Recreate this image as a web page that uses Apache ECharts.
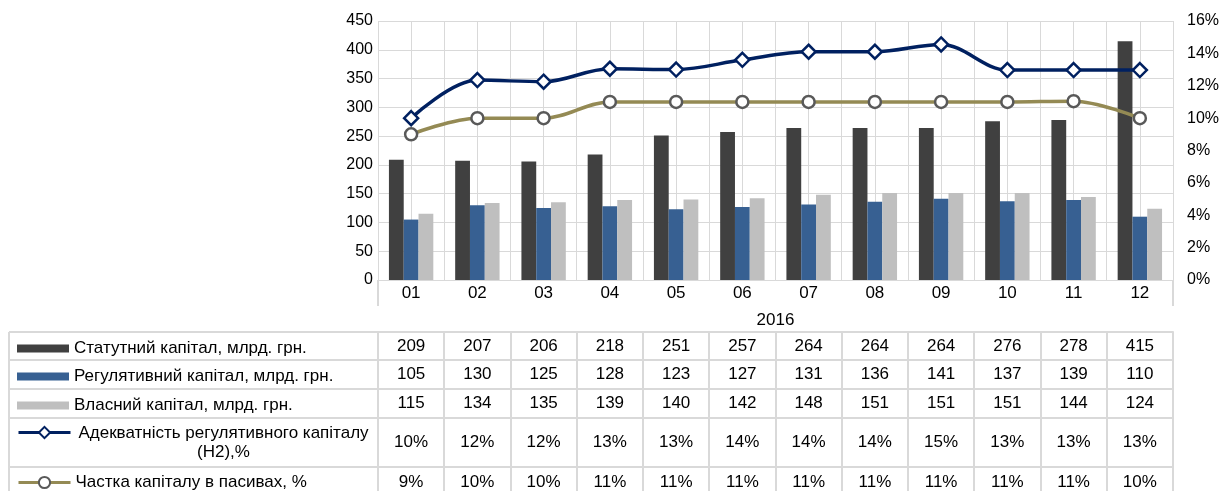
<!DOCTYPE html>
<html>
<head>
<meta charset="utf-8">
<script src="https://cdn.jsdelivr.net/npm/echarts@6/dist/echarts.min.js"></script>
<style>
  html, body { margin: 0; padding: 0; background: #fff; }
  #chart { width: 1222px; height: 491px; }
</style>
</head>
<body>
<div id="chart"></div>
<script>
// data
const months = ['01', '02', '03', '04', '05', '06', '07', '08', '09', '10', '11', '12']
const year = '2016'
const statutory = [209, 207, 206, 218, 251, 257, 264, 264, 264, 276, 278, 415]
const regulatory = [105, 130, 125, 128, 123, 127, 131, 136, 141, 137, 139, 110]
const ownCapital = [115, 134, 135, 139, 140, 142, 148, 151, 151, 151, 144, 124]
// percent values
const adequacy = [10.0, 12.35, 12.25, 13.05, 13.0, 13.6, 14.1, 14.1, 14.55, 12.97, 12.97, 12.97]
const capitalShare = [9.0, 10.0, 10.0, 11.0, 11.0, 11.0, 11.0, 11.0, 11.0, 11.0, 11.05, 10.0]

const seriesNames = [
  'Статутний капітал, млрд. грн.',
  'Регулятивний капітал, млрд. грн.',
  'Власний капітал, млрд. грн.',
  'Адекватність регулятивного капіталу (Н2),%',
  'Частка капіталу в пасивах, %',
]

const FONT = 'Liberation Sans, Arial, sans-serif'
const TEXT = '#000'
const GRID_LINE = '#d9d9d9'
const TABLE_LINE = '#d9d9d9'
const AXIS_FS = 16
const TABLE_FS = 17

const chart = echarts.init(document.getElementById('chart'))

// table rows under the plot: [values, line offset from plot bottom, row height, label margin]
const rowAxis = (values, offset, height, margin) => ({
  type: 'category',
  position: 'bottom',
  offset: offset,
  data: values,
  axisLine: { show: true, lineStyle: { color: TABLE_LINE, width: 2 } },
  axisTick: { show: true, length: height, interval: 0, lineStyle: { color: TABLE_LINE, width: 2 } },
  axisLabel: { interval: 0, margin: margin, fontSize: TABLE_FS, color: TEXT, fontFamily: FONT },
  splitLine: { show: false },
})

const pct = (arr) => arr.map((v) => Math.round(v) + '%')

// legend column on the left, one legend per table row
const legendAt = (name, top, itemHeight, extra) => Object.assign({
  data: [name],
  left: 17,
  top: top,
  padding: 0,
  itemWidth: 52,
  itemHeight: itemHeight,
  textStyle: { fontSize: TABLE_FS, color: TEXT, fontFamily: FONT },
  selectedMode: false,
}, extra || {})

const tableRows = [332, 360, 389, 418, 467]
const graphic = tableRows.map((y) => ({
  type: 'line',
  shape: { x1: 9, y1: y, x2: 378, y2: y },
  style: { stroke: TABLE_LINE, lineWidth: 2 },
}))
graphic.push({
  type: 'line',
  shape: { x1: 9, y1: 332, x2: 9, y2: 491 },
  style: { stroke: TABLE_LINE, lineWidth: 2 },
})

const option = {
  backgroundColor: '#fff',
  animation: false,
  textStyle: { fontFamily: FONT },
  grid: { left: 378, right: 48, top: 21, bottom: 211, containLabel: false },
  legend: [
    legendAt(seriesNames[0], 340, 8, { icon: 'rect' }),
    legendAt(seriesNames[1], 368, 8, { icon: 'rect' }),
    legendAt(seriesNames[2], 397, 8, { icon: 'rect' }),
    legendAt(seriesNames[3], 425, 14, {
      lineStyle: { width: 3 },
      formatter: '{a|Адекватність регулятивного капіталу}\n{a|(Н2),%}',
      textStyle: {
        fontSize: TABLE_FS, color: TEXT, fontFamily: FONT, padding: [21, 0, 0, 0],
        rich: { a: { width: 296, align: 'center', fontSize: TABLE_FS, lineHeight: 19, color: TEXT, fontFamily: FONT } },
      },
    }),
    legendAt(seriesNames[4], 474, 14, { lineStyle: { width: 3 } }),
  ],
  graphic: graphic,
  xAxis: [
    {
      type: 'category',
      data: months,
      position: 'bottom',
      axisLine: { lineStyle: { color: GRID_LINE, width: 1 } },
      axisTick: { length: 26, interval: 0, lineStyle: { color: TABLE_LINE, width: 2 } },
      axisLabel: { margin: 5, fontSize: TABLE_FS, color: TEXT, fontFamily: FONT },
      splitLine: { show: false },
    },
    {
      type: 'category',
      data: [year],
      position: 'bottom',
      offset: 26,
      axisLine: { show: false },
      axisTick: { show: true, length: 26, lineStyle: { color: TABLE_LINE, width: 2 } },
      axisLabel: { margin: 6, fontSize: TABLE_FS, color: TEXT, fontFamily: FONT },
    },
    rowAxis(statutory.map(String), 52, 28, 6),
    rowAxis(regulatory.map(String), 80, 29, 6),
    rowAxis(ownCapital.map(String), 109, 29, 6),
    rowAxis(pct(adequacy), 138, 49, 16),
    rowAxis(pct(capitalShare), 187, 30, 7),
    {
      // vertical gridlines every half category
      type: 'value',
      position: 'top',
      min: 0,
      max: 24,
      interval: 1,
      axisLine: { show: false },
      axisTick: { show: false },
      axisLabel: { show: false },
      splitLine: { show: true, lineStyle: { color: GRID_LINE, width: 1 } },
    },
  ],
  yAxis: [
    {
      type: 'value',
      min: 0,
      max: 450,
      interval: 50,
      axisLine: { show: false },
      axisTick: { show: false },
      axisLabel: { margin: 5, fontSize: AXIS_FS, color: TEXT, fontFamily: FONT },
      splitLine: { show: true, lineStyle: { color: GRID_LINE, width: 1 } },
    },
    {
      type: 'value',
      min: 0,
      max: 16,
      interval: 2,
      position: 'right',
      axisLine: { show: false },
      axisTick: { show: false },
      axisLabel: { margin: 14, fontSize: AXIS_FS, color: TEXT, fontFamily: FONT, formatter: '{value}%' },
      splitLine: { show: false },
    },
  ],
  series: [
    {
      name: seriesNames[0],
      type: 'bar',
      data: statutory,
      barGap: '0%',
      barCategoryGap: '33%',
      itemStyle: { color: '#404040' },
    },
    {
      name: seriesNames[1],
      type: 'bar',
      data: regulatory,
      itemStyle: { color: '#376092' },
    },
    {
      name: seriesNames[2],
      type: 'bar',
      data: ownCapital,
      itemStyle: { color: '#bfbfbf' },
    },
    {
      name: seriesNames[3],
      type: 'line',
      yAxisIndex: 1,
      data: adequacy,
      smooth: 0.35,
      symbol: 'diamond',
      symbolSize: 14,
      lineStyle: { color: '#002060', width: 3.5 },
      itemStyle: { color: '#fff', borderColor: '#002060', borderWidth: 2.5 },
      z: 5,
    },
    {
      name: seriesNames[4],
      type: 'line',
      yAxisIndex: 1,
      data: capitalShare,
      smooth: 0.35,
      symbol: 'circle',
      symbolSize: 12,
      lineStyle: { color: '#948a54', width: 3.5 },
      itemStyle: { color: '#fff', borderColor: '#595959', borderWidth: 2.5 },
      z: 4,
    },
  ],
}

chart.setOption(option)
</script>
</body>
</html>
